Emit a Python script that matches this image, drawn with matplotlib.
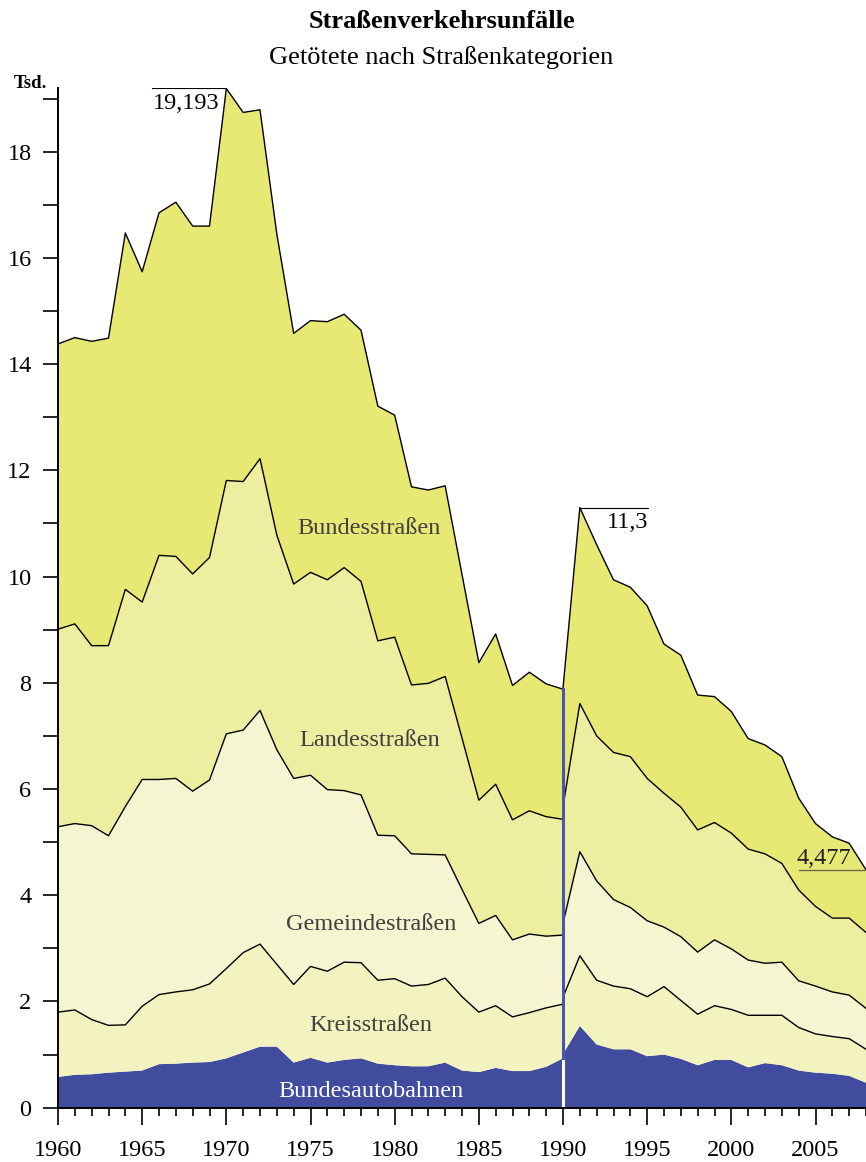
import numpy as np
import matplotlib
matplotlib.use("Agg")
import matplotlib.pyplot as plt

plt.rcParams['font.family'] = ['Liberation Serif', 'DejaVu Serif']

# Getötete in Tausend, früheres Bundesgebiet 1960-1990
years_west = list(range(1960, 1991))
bab_west = [0.58, 0.62, 0.63, 0.66, 0.68, 0.70, 0.82, 0.83, 0.85, 0.86, 0.93, 1.04, 1.15, 1.15, 0.85, 0.94,
            0.85, 0.90, 0.93, 0.83, 0.80, 0.78, 0.78, 0.85, 0.70, 0.67, 0.75, 0.69, 0.69, 0.77, 0.93]
kreis_west = [1.22, 1.22, 1.03, 0.89, 0.88, 1.21, 1.31, 1.35, 1.37, 1.47, 1.69, 1.88, 1.93, 1.55, 1.47, 1.72,
              1.72, 1.84, 1.80, 1.57, 1.63, 1.51, 1.54, 1.59, 1.39, 1.13, 1.17, 1.02, 1.10, 1.11, 1.02]
gemeinde_west = [3.49, 3.51, 3.65, 3.57, 4.11, 4.27, 4.05, 4.02, 3.74, 3.84, 4.42, 4.19, 4.40, 4.04, 3.88, 3.60,
                 3.42, 3.23, 3.16, 2.73, 2.69, 2.49, 2.45, 2.32, 2.02, 1.67, 1.70, 1.45, 1.48, 1.35, 1.30]
landes_west = [3.72, 3.76, 3.39, 3.58, 4.09, 3.34, 4.22, 4.18, 4.09, 4.19, 4.77, 4.68, 4.74, 4.04, 3.66, 3.82,
               3.95, 4.20, 4.02, 3.66, 3.74, 3.18, 3.22, 3.36, 2.85, 2.32, 2.47, 2.26, 2.32, 2.25, 2.18]
bundes_west = [5.37, 5.39, 5.73, 5.79, 6.71, 6.22, 6.45, 6.67, 6.55, 6.24, 7.38, 6.95, 6.57, 5.67, 4.72, 4.74,
               4.86, 4.77, 4.73, 4.42, 4.18, 3.73, 3.64, 3.59, 3.08, 2.59, 2.83, 2.53, 2.61, 2.50, 2.45]

# Deutschland 1990-2008
years_de = list(range(1990, 2009))
bab_de = [1.01, 1.54, 1.19, 1.10, 1.10, 0.97, 1.00, 0.92, 0.80, 0.90, 0.90, 0.76, 0.84, 0.80, 0.70, 0.66,
          0.64, 0.60, 0.47]
kreis_de = [1.07, 1.32, 1.21, 1.19, 1.14, 1.12, 1.28, 1.10, 0.96, 1.02, 0.95, 0.98, 0.90, 0.94, 0.81, 0.73,
            0.70, 0.70, 0.63]
gemeinde_de = [1.39, 1.96, 1.87, 1.63, 1.53, 1.43, 1.12, 1.20, 1.17, 1.24, 1.14, 1.04, 0.98, 1.00, 0.88, 0.90,
               0.84, 0.82, 0.77]
landes_de = [2.20, 2.79, 2.73, 2.77, 2.84, 2.68, 2.52, 2.44, 2.30, 2.21, 2.18, 2.09, 2.06, 1.86, 1.71, 1.50,
             1.39, 1.45, 1.43]
bundes_de = [2.23, 3.69, 3.60, 3.25, 3.19, 3.25, 2.81, 2.86, 2.54, 2.37, 2.29, 2.08, 2.05, 2.01, 1.73, 1.56,
             1.53, 1.41, 1.18]

categories = ["Bundesautobahnen", "Kreisstraßen", "Gemeindestraßen", "Landesstraßen", "Bundesstraßen"]
colors = ["#414c9f", "#f3f3c0", "#f5f5d2", "#eeeea0", "#e8e874"]

fig = plt.figure(figsize=(8.66, 11.62), dpi=100)
ax = fig.add_axes([58 / 866, 54.3 / 1162, 1 - 58 / 866, (1107.7 - 88) / 1162])

for yrs, layers in [(years_west, [bab_west, kreis_west, gemeinde_west, landes_west, bundes_west]),
                    (years_de, [bab_de, kreis_de, gemeinde_de, landes_de, bundes_de])]:
    x = np.array(yrs)
    cum = np.cumsum(np.array(layers), axis=0)
    lower = np.zeros(len(x))
    for i, c in enumerate(colors):
        ax.fill_between(x, lower, cum[i], facecolor=c, edgecolor="none", zorder=1)
        if i > 0:
            ax.plot(x, cum[i], color="black", lw=1.0, zorder=3)
        lower = cum[i]

# Trennlinie 1990
bab_top_1990 = bab_west[-1]
total_1990 = sum(v[-1] for v in [bab_west, kreis_west, gemeinde_west, landes_west, bundes_west])
ax.plot([1990, 1990], [0, bab_top_1990], color="white", lw=2.2, zorder=4)
ax.plot([1990, 1990], [bab_top_1990, total_1990], color="#4a55b0", lw=2.2, zorder=4)

# Markierungen
max_west = 19.193
ax.plot([1965.6, 1970], [max_west, max_west], color="black", lw=0.8, zorder=3)
ax.text(1967.6, max_west - 0.08, "19,193", ha="center", va="top", fontsize=17.5)
max_de = 11.3
ax.plot([1991, 1995.05], [max_de, max_de], color="black", lw=0.8, zorder=3)
ax.text(1995.1, max_de - 0.08, "11,3", ha="right", va="top", fontsize=17.5)
last_val = 4.477
ax.plot([2004.0, 2008], [last_val, last_val], color="#6b6b4a", lw=1.0, zorder=5)
ax.text(2003.9, last_val + 0.02, "4,477", ha="left", va="bottom", fontsize=17.5, color="#222222", zorder=5)

# Beschriftungen der Kategorien
label_pos = [(1978.6, 0.31, "white"), (1978.6, 1.55, "#404040"), (1978.6, 3.45, "#404040"),
             (1978.5, 6.92, "#404040"), (1978.5, 10.9, "#404040")]
for name, (lx, ly, lc) in zip(categories, label_pos):
    ax.text(lx, ly, name, ha="center", va="center", fontsize=17.5, color=lc, zorder=6)

ax.set_xlim(1960, 1960 + (866 - 58) / 16.97)
ax.set_ylim(0, 19.2)
ax.set_xticks(range(1960, 2006, 5))
ax.set_xticks(range(1960, 2009), minor=True)
ax.set_yticks(range(0, 19, 2))
ax.set_yticks(range(1, 20, 2), minor=True)
ax.tick_params(axis="x", which="major", length=12, width=1.2, pad=11, labelsize=17.5)
ax.tick_params(axis="x", which="minor", length=6, width=1.2)
ax.tick_params(axis="y", which="both", length=11, width=1.2, pad=8, labelsize=17.5)
for s in ["top", "right"]:
    ax.spines[s].set_visible(False)
for s in ["left", "bottom"]:
    ax.spines[s].set_linewidth(1.4)
    ax.spines[s].set_zorder(7)
ax.patch.set_alpha(0)

fig.text(442 / 866, 1 - 22 / 1162, "Straßenverkehrsunfälle", ha="center", va="center",
         fontsize=19, fontweight="bold")
fig.text(441 / 866, 1 - 58 / 1162, "Getötete nach Straßenkategorien", ha="center", va="center",
         fontsize=19)
fig.text(30 / 866, 1 - 84 / 1162, "Tsd.", ha="center", va="center", fontsize=13.5, fontweight="bold")

fig.savefig("out.png", dpi=100)
